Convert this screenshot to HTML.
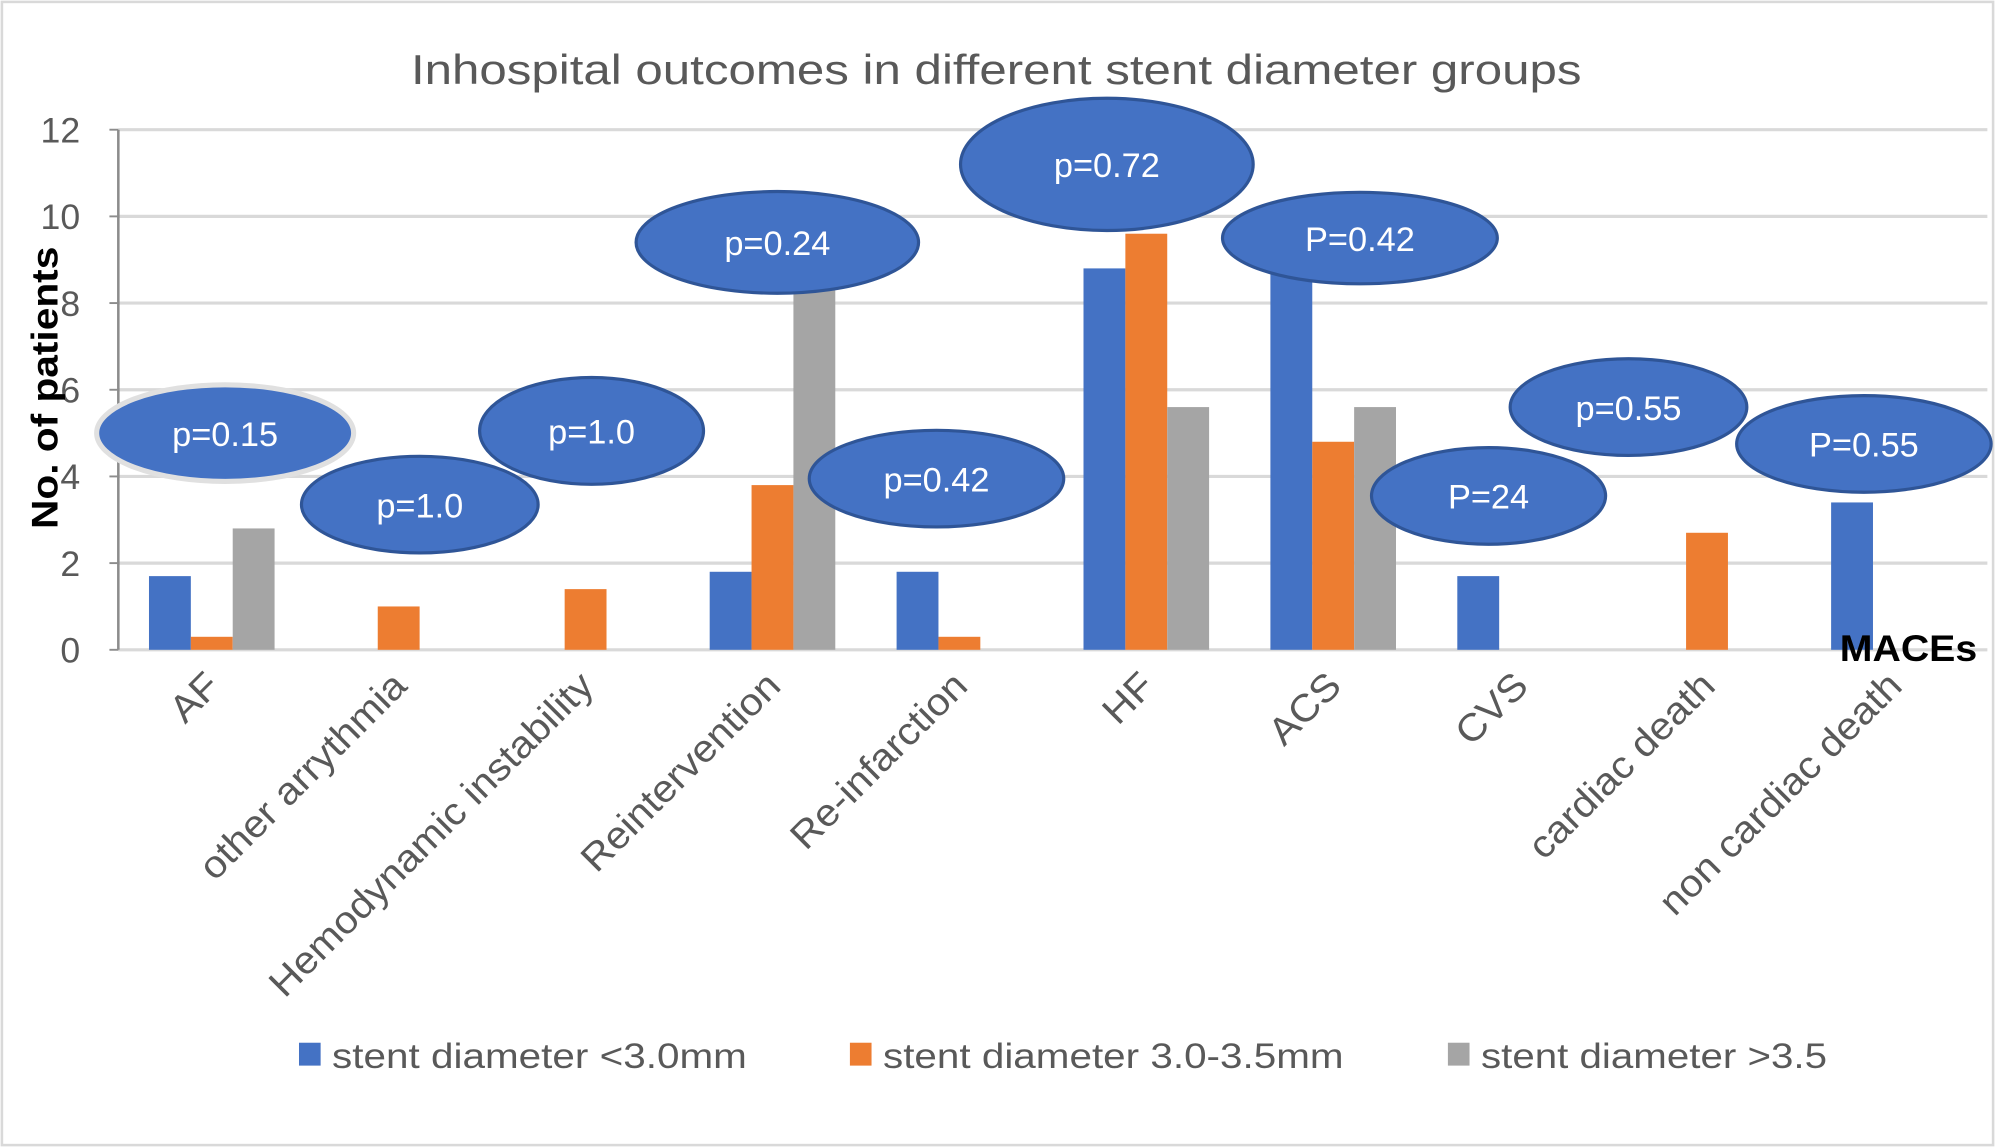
<!DOCTYPE html>
<html><head><meta charset="utf-8"><style>
html,body{margin:0;padding:0;background:#fff}
svg{display:block}
text{font-family:"Liberation Sans",sans-serif}
</style></head><body>
<svg id="chart" width="1995" height="1147" viewBox="0 0 1568 902" preserveAspectRatio="none" xmlns="http://www.w3.org/2000/svg">
<rect x="1.5" y="1.5" width="1565" height="899" fill="#fff" stroke="#d9d9d9" stroke-width="2"/>
<text x="783" y="66" text-anchor="middle" font-size="33" fill="#595959" textLength="920" lengthAdjust="spacingAndGlyphs">Inhospital outcomes in different stent diameter groups</text>
<g id="grid"></g><g id="bars"></g><g id="ells"></g><g id="labels"></g>
<text transform="translate(45,305) rotate(-90)" text-anchor="middle" font-size="29" font-weight="bold" fill="#000" textLength="222" lengthAdjust="spacingAndGlyphs">No. of patients</text>
<text x="1500" y="520" text-anchor="middle" font-size="29" font-weight="bold" fill="#000" textLength="108" lengthAdjust="spacingAndGlyphs">MACEs</text>
<g>
<rect x="235" y="820" width="17" height="18" fill="#4472C4"/>
<text x="261" y="840" font-size="28" fill="#595959" textLength="326" lengthAdjust="spacingAndGlyphs">stent diameter &lt;3.0mm</text>
<rect x="668" y="820" width="17" height="18" fill="#ED7D31"/>
<text x="694" y="840" font-size="28" fill="#595959" textLength="362" lengthAdjust="spacingAndGlyphs">stent diameter 3.0-3.5mm</text>
<rect x="1138" y="820" width="17" height="18" fill="#A5A5A5"/>
<text x="1164" y="840" font-size="28" fill="#595959" textLength="272" lengthAdjust="spacingAndGlyphs">stent diameter &gt;3.5</text>
</g>
</svg>
<script>
const categories = ["AF","other arrythmia","Hemodynamic instability","Reintervention","Re-infarction","HF","ACS","CVS","cardiac death","non cardiac death"];
const smallStent = [1.7,0,0,1.8,1.8,8.8,9.0,1.7,0,3.4];
const mediumStent = [0.3,1.0,1.4,3.8,0.3,9.6,4.8,0,2.7,0];
const largeStent = [2.8,0,0,8.3,0,5.6,5.6,0,0,0];
const yTicks = [0,2,4,6,8,10,12];
const pLabels = ["p=0.15","p=1.0","p=1.0","p=0.24","p=0.42","p=0.72","P=0.42","P=24","p=0.55","P=0.55"];
const pValueLevels = [5.0,3.35,5.05,9.4,3.95,11.2,9.5,3.55,5.6,4.75];
const NS="http://www.w3.org/2000/svg";
const X0=93,X1=1562,Y0=511,YMAX=12,YTOP=102;
const band=(X1-X0)/categories.length;
const y=v=>Y0-(v/YMAX)*(Y0-YTOP);
const xc=i=>X0+band*(i+0.5);
function mk(tag,attrs,parent){const e=document.createElementNS(NS,tag);for(const k in attrs)e.setAttribute(k,attrs[k]);parent.appendChild(e);return e;}
const grid=document.getElementById('grid'),bars=document.getElementById('bars'),ells=document.getElementById('ells'),labels=document.getElementById('labels');
yTicks.forEach(t=>{
  const l=mk('line',{x1:X0,x2:X1,y1:y(t),y2:y(t),stroke:'#d9d9d9','stroke-width':2.5},grid);
  
  
  const tk=mk('line',{x1:X0-7,x2:X0,y1:y(t),y2:y(t),stroke:'#8c8c8c','stroke-width':1.5},grid);
  
  
  const tx=mk('text',{x:X0-30,y:y(t)+10,'text-anchor':'end','font-size':28,fill:'#595959'},grid);
  tx.textContent=t;
  
  
});
const ax=mk('line',{x1:X0,x2:X0,y1:YTOP,y2:Y0,stroke:'#8c8c8c','stroke-width':2},grid);


const series=[[smallStent,'#4472C4','small'],[mediumStent,'#ED7D31','medium'],[largeStent,'#A5A5A5','large']];
const bw=band*0.224;
categories.forEach((c,i)=>{
  series.forEach((s,j)=>{
    const v=s[0][i]; if(v<=0) return;
    const r=mk('rect',{x:xc(i)-1.5*bw+j*bw,y:y(v),width:bw,height:Y0-y(v),fill:s[1]},bars);
    
    
  });
  const t=mk('text',{transform:`translate(${xc(i)+8},${541}) rotate(-45)`,'text-anchor':'end','font-size':30,fill:'#595959'},labels);
  t.textContent=c;
  
  
  const len=t.getComputedTextLength();
  if(len>0){t.setAttribute('textLength',(len*1.07).toFixed(1));t.setAttribute('lengthAdjust','spacingAndGlyphs');}
});
const eoff=[10.5,16.6,4.7,3.8,-18,-31,21,-24.8,-61.7,-23.6];
const erx=[101,93,88,111,100,115,108,92,93,100];
const ery=[38,38,42,40,38,52,36,38,38,38];
pLabels.forEach((p,i)=>{
  const cx=xc(i)+eoff[i],cy=y(pValueLevels[i]);
  const e=mk('ellipse',{cx:cx,cy:cy,rx:erx[i],ry:ery[i],fill:'#4472C4',stroke:i===0?'#e0e0e0':'#2F5597','stroke-width':i===0?4:2.5},ells);
  
  
  const t=mk('text',{x:cx,y:cy+10,'text-anchor':'middle','font-size':27,fill:'#fff'},ells);
  t.textContent=p;
  
  
});
</script>
</body></html>
